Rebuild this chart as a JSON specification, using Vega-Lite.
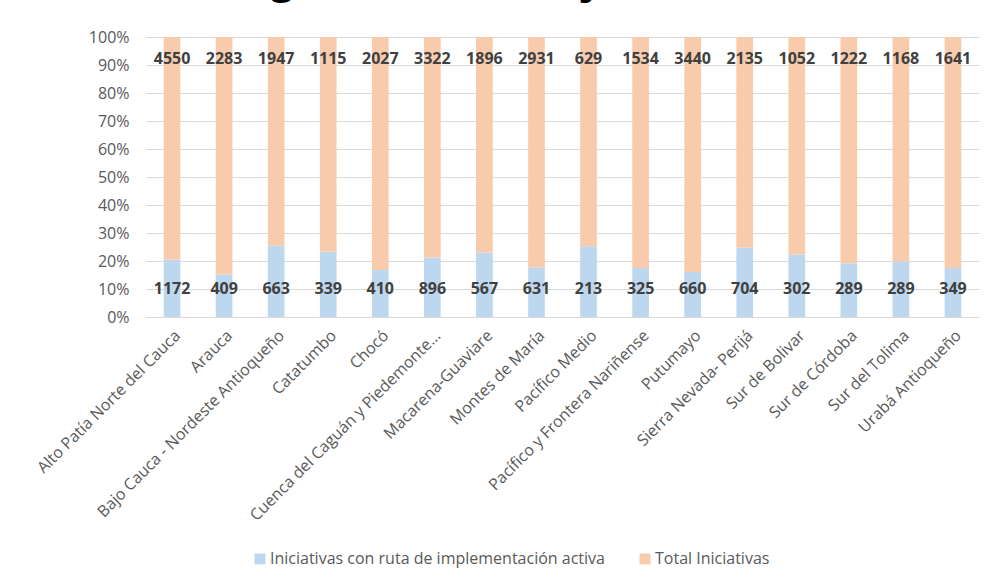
{
  "$schema": "https://vega.github.io/schema/vega-lite/v6.json",
  "width": 833,
  "height": 280,
  "autosize": {"type": "none"},
  "padding": {"left": 146, "top": 37, "right": 11, "bottom": 270},
  "title": {"text": "Subregión a corte de junio de 2021", "fontSize": 41, "font": "Open Sans", "fontWeight": "bold", "color": "#000000", "anchor": "middle", "dx": -60, "dy": 26, "baseline": "bottom", "offset": 12},
  "config": {
    "view": {"stroke": null},
    "font": "Open Sans",
    "legend": {"orient": "none", "legendX": 106, "legendY": 514, "direction": "horizontal", "symbolType": "square", "symbolSize": 120, "labelFontSize": 16, "labelColor": "#595959", "columnPadding": 32, "symbolStrokeWidth": 0, "labelOffset": 2, "labelLimit": 600}
  },
  "data": {"values": [
    {"region": "Alto Patía Norte del Cauca", "serie": "Iniciativas con ruta de implementación activa", "value": 1172},
    {"region": "Alto Patía Norte del Cauca", "serie": "Total Iniciativas", "value": 4550},
    {"region": "Arauca", "serie": "Iniciativas con ruta de implementación activa", "value": 409},
    {"region": "Arauca", "serie": "Total Iniciativas", "value": 2283},
    {"region": "Bajo Cauca - Nordeste Antioqueño", "serie": "Iniciativas con ruta de implementación activa", "value": 663},
    {"region": "Bajo Cauca - Nordeste Antioqueño", "serie": "Total Iniciativas", "value": 1947},
    {"region": "Catatumbo", "serie": "Iniciativas con ruta de implementación activa", "value": 339},
    {"region": "Catatumbo", "serie": "Total Iniciativas", "value": 1115},
    {"region": "Chocó", "serie": "Iniciativas con ruta de implementación activa", "value": 410},
    {"region": "Chocó", "serie": "Total Iniciativas", "value": 2027},
    {"region": "Cuenca del Caguán y Piedemonte...", "serie": "Iniciativas con ruta de implementación activa", "value": 896},
    {"region": "Cuenca del Caguán y Piedemonte...", "serie": "Total Iniciativas", "value": 3322},
    {"region": "Macarena-Guaviare", "serie": "Iniciativas con ruta de implementación activa", "value": 567},
    {"region": "Macarena-Guaviare", "serie": "Total Iniciativas", "value": 1896},
    {"region": "Montes de María", "serie": "Iniciativas con ruta de implementación activa", "value": 631},
    {"region": "Montes de María", "serie": "Total Iniciativas", "value": 2931},
    {"region": "Pacífico Medio", "serie": "Iniciativas con ruta de implementación activa", "value": 213},
    {"region": "Pacífico Medio", "serie": "Total Iniciativas", "value": 629},
    {"region": "Pacífico y Frontera Nariñense", "serie": "Iniciativas con ruta de implementación activa", "value": 325},
    {"region": "Pacífico y Frontera Nariñense", "serie": "Total Iniciativas", "value": 1534},
    {"region": "Putumayo", "serie": "Iniciativas con ruta de implementación activa", "value": 660},
    {"region": "Putumayo", "serie": "Total Iniciativas", "value": 3440},
    {"region": "Sierra Nevada- Perijá", "serie": "Iniciativas con ruta de implementación activa", "value": 704},
    {"region": "Sierra Nevada- Perijá", "serie": "Total Iniciativas", "value": 2135},
    {"region": "Sur de Bolivar", "serie": "Iniciativas con ruta de implementación activa", "value": 302},
    {"region": "Sur de Bolivar", "serie": "Total Iniciativas", "value": 1052},
    {"region": "Sur de Córdoba", "serie": "Iniciativas con ruta de implementación activa", "value": 289},
    {"region": "Sur de Córdoba", "serie": "Total Iniciativas", "value": 1222},
    {"region": "Sur del Tolima", "serie": "Iniciativas con ruta de implementación activa", "value": 289},
    {"region": "Sur del Tolima", "serie": "Total Iniciativas", "value": 1168},
    {"region": "Urabá Antioqueño", "serie": "Iniciativas con ruta de implementación activa", "value": 349},
    {"region": "Urabá Antioqueño", "serie": "Total Iniciativas", "value": 1641}
  ]},
  "encoding": {
    "x": {"field": "region", "type": "nominal", "sort": null,
      "scale": {"paddingInner": 0.68, "paddingOuter": 0.34},
      "axis": {"title": null, "labelAngle": -45, "labelFontSize": 16, "labelColor": "#595959", "domainColor": "#D9D9D9", "ticks": false, "labelPadding": 10, "labelLimit": 400}}
  },
  "layer": [
    {
      "mark": {"type": "bar"},
      "encoding": {
        "y": {"field": "value", "type": "quantitative", "aggregate": "sum", "stack": "normalize",
          "scale": {"domain": [0, 1]},
          "axis": {"title": null, "format": ".0%", "values": [0, 0.1, 0.2, 0.3, 0.4, 0.5, 0.6, 0.7, 0.8, 0.9, 1], "labelOverlap": false, "gridColor": "#D9D9D9", "domain": false, "ticks": false, "labelColor": "#595959", "labelFontSize": 16, "labelPadding": 17}},
        "color": {"field": "serie", "type": "nominal",
          "scale": {"domain": ["Iniciativas con ruta de implementación activa", "Total Iniciativas"], "range": ["#BDD7EE", "#F8CBAD"]},
          "legend": {"title": null}},
        "order": {"field": "serie", "sort": "ascending"}
      }
    },
    {
      "transform": [{"filter": "datum.serie === 'Iniciativas con ruta de implementación activa'"}],
      "mark": {"type": "text", "fontWeight": "bold", "fontSize": 16, "color": "#404040", "baseline": "middle"},
      "encoding": {
        "y": {"datum": 0.1, "type": "quantitative",
          "axis": {"title": null, "format": ".0%", "values": [0, 0.1, 0.2, 0.3, 0.4, 0.5, 0.6, 0.7, 0.8, 0.9, 1], "labelOverlap": false, "gridColor": "#D9D9D9", "domain": false, "ticks": false, "labelColor": "#595959", "labelFontSize": 16, "labelPadding": 17}},
        "text": {"field": "value", "type": "quantitative"}}
    },
    {
      "transform": [{"filter": "datum.serie === 'Total Iniciativas'"}],
      "mark": {"type": "text", "fontWeight": "bold", "fontSize": 16, "color": "#404040", "baseline": "middle"},
      "encoding": {
        "y": {"datum": 0.92, "type": "quantitative",
          "axis": {"title": null, "format": ".0%", "values": [0, 0.1, 0.2, 0.3, 0.4, 0.5, 0.6, 0.7, 0.8, 0.9, 1], "labelOverlap": false, "gridColor": "#D9D9D9", "domain": false, "ticks": false, "labelColor": "#595959", "labelFontSize": 16, "labelPadding": 17}},
        "text": {"field": "value", "type": "quantitative"}}
    }
  ]
}
